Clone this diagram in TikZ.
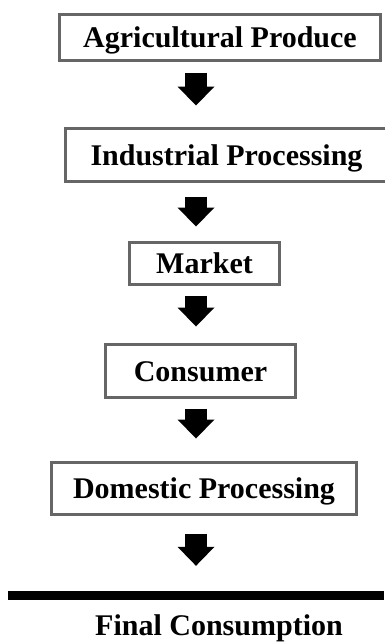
\documentclass[tikz,border=0pt]{standalone}
\usepackage{fontspec}
\setmainfont{Liberation Serif}
\usetikzlibrary{arrows.meta}

\begin{document}
\begin{tikzpicture}[x=1pt, y=-1pt,
    box/.style={rectangle, draw=black!60, line width=3pt, inner sep=0pt,
        text height=20pt, text depth=0pt},
    flow/.style={line width=22pt,
        -{Triangle[width=37pt, length=19pt, line width=0pt]}},
    font=\fontsize{30}{36}\selectfont\bfseries]
\useasboundingbox (0,0) rectangle (384,643);
\node[box, minimum width=321pt, minimum height=46pt] (A) at (220,37.5) {Agricultural Produce};
\node[box, minimum width=322pt, minimum height=53pt] (I) at (226.5,155) {Industrial Processing};
\node[box, minimum width=150pt, minimum height=42pt] (M) at (204.5,263.5) {Market};
\node[box, minimum width=190pt, minimum height=53pt] (C) at (200.5,371) {Consumer};
\node[box, minimum width=305pt, minimum height=52pt] (D) at (204,488.5) {Domestic Processing};
\node[rectangle, fill=black, inner sep=0pt, minimum width=376pt,
    minimum height=9pt] (L) at (196,595) {};
\node[text height=20pt, text depth=0pt, inner sep=0pt] (F) at (219,625) {Final Consumption};
\coordinate (ax) at (196,0);
\draw[flow, shorten <=10.5pt, shorten >=21.5pt] (A.south -| ax) -- (I.north -| ax);
\draw[flow, shorten <=13.5pt, shorten >=14.5pt] (I.south -| ax) -- (M.north -| ax);
\draw[flow, shorten <=9.5pt, shorten >=16.5pt] (M.south -| ax) -- (C.north -| ax);
\draw[flow, shorten <=9.5pt, shorten >=22.5pt] (C.south -| ax) -- (D.north -| ax);
\draw[flow, shorten <=17.5pt, shorten >=24.5pt] (D.south -| ax) -- (L.north -| ax);
\end{tikzpicture}
\end{document}
